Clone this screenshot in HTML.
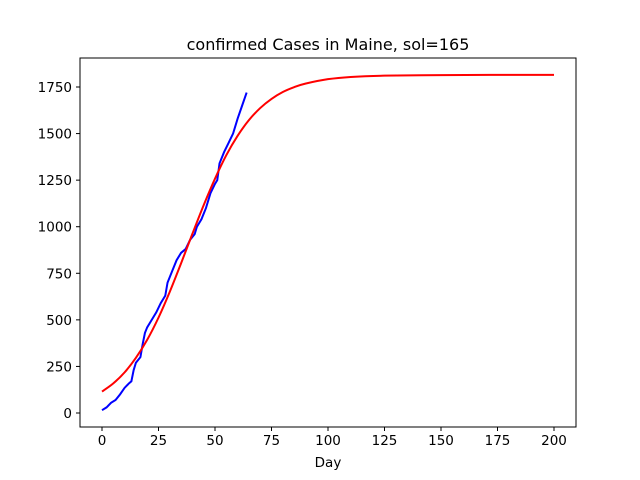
<!DOCTYPE html>
<html><head><meta charset="utf-8">
<style>
body{margin:0;background:#fff;}
svg{display:block;font-family:"DejaVu Sans","Liberation Sans",sans-serif;}
</style></head>
<body>
<svg id="chart" width="640" height="480" viewBox="0 0 640 480">
<rect width="640" height="480" fill="#fff"/>
<text x="328" y="50" font-size="16" text-anchor="middle">confirmed Cases in Maine, sol=165</text>
<g id="axes"></g>
<g id="series"></g>
<rect x="80" y="58" width="496" height="369" fill="none" stroke="#000" stroke-width="1"/>
<text x="328" y="467" font-size="13.5" text-anchor="middle">Day</text>
</svg>
<script>
const xTicks=[0,25,50,75,100,125,150,175,200];
const yTicks=[0,250,500,750,1000,1250,1500,1750];
const dataDays=[0,2,4,6,8,10,12,13,14,15,17,18,19,20,22,24,26,28,29,31,33,35,37,39,41,42,44,46,48,50,51,52,54,56,58,60,62,64];
const dataCases=[15,30,55,70,100,135,160,170,230,270,300,370,430,460,500,540,590,630,700,760,820,860,880,930,960,1000,1040,1100,1180,1230,1250,1340,1400,1450,1500,1580,1650,1720];
const fitDays=[0,5,10,15,20,25,30,35,40,45,50,55,60,65,70,75,80,85,90,100,110,125,150,175,200];
const fitCases=[115,159,218,296,393,512,651,804,962,1116,1258,1384,1488,1572,1637,1686,1723,1749,1768,1792,1804,1811,1814,1815,1815];

const NS="http://www.w3.org/2000/svg";
const xs=d=>102+d*(554-102)/200;
const ys=v=>413-v*(413-87)/1750;
const axes=document.getElementById('axes');
const ser=document.getElementById('series');
function mk(tag,attrs,parent){const e=document.createElementNS(NS,tag);for(const k in attrs)e.setAttribute(k,attrs[k]);parent.appendChild(e);return e;}
function smoothPath(pts){
  let d='M'+pts[0][0]+','+pts[0][1];
  for(let i=0;i<pts.length-1;i++){
    const p0=pts[Math.max(0,i-1)],p1=pts[i],p2=pts[i+1],p3=pts[Math.min(pts.length-1,i+2)];
    const c1=[p1[0]+(p2[0]-p0[0])/6,p1[1]+(p2[1]-p0[1])/6];
    const c2=[p2[0]-(p3[0]-p1[0])/6,p2[1]-(p3[1]-p1[1])/6];
    d+=' C'+c1[0]+','+c1[1]+' '+c2[0]+','+c2[1]+' '+p2[0]+','+p2[1];
  }
  return d;
}
xTicks.forEach(t=>{
  const l=mk('line',{x1:xs(t),x2:xs(t),y1:427,y2:431,stroke:'#000'},axes);
  
  
  const tx=mk('text',{x:xs(t),y:445,'font-size':13.5,'text-anchor':'middle'},axes);
  tx.textContent=t;
  
  
});
yTicks.forEach(t=>{
  const l=mk('line',{x1:76,x2:80,y1:ys(t),y2:ys(t),stroke:'#000'},axes);
  
  
  const tx=mk('text',{x:72,y:ys(t)+5,'font-size':13.5,'text-anchor':'end'},axes);
  tx.textContent=t;
  
  
});
const blue=mk('polyline',{points:dataDays.map((d,i)=>xs(d)+','+ys(dataCases[i])).join(' '),fill:'none',stroke:'#0000ff','stroke-width':2},ser);


const red=mk('path',{d:smoothPath(fitDays.map((d,i)=>[xs(d),ys(fitCases[i])])),fill:'none',stroke:'#ff0000','stroke-width':2},ser);


</script>
</body></html>
